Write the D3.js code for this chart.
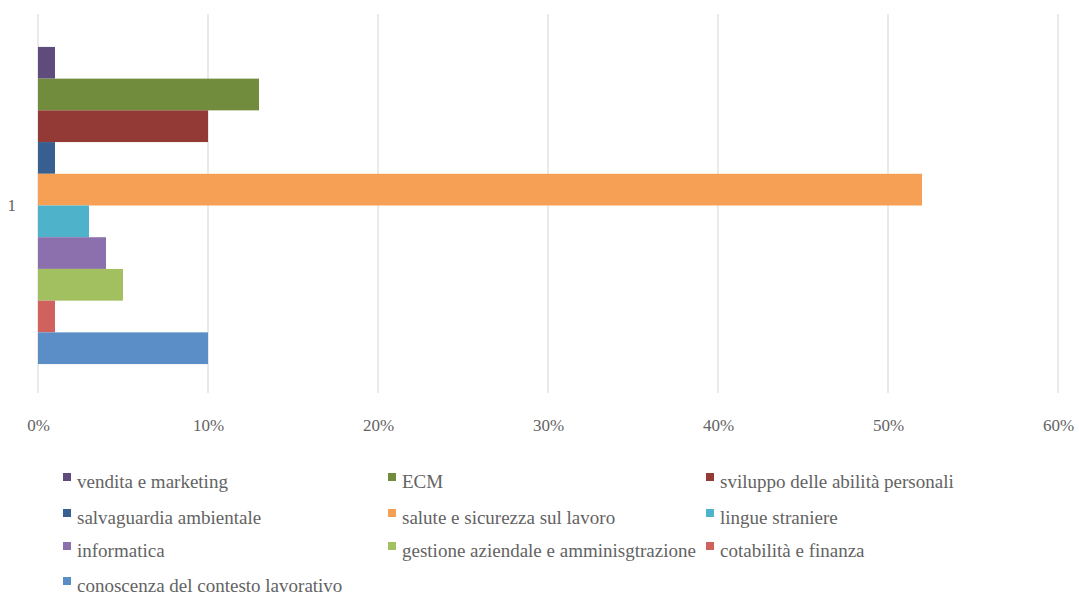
<!DOCTYPE html>
<html>
<head>
<meta charset="utf-8">
<script src="https://cdn.jsdelivr.net/npm/d3@7"></script>
<style>
  html, body { margin: 0; padding: 0; background: #fff; }
  svg { display: block; }
</style>
</head>
<body>
<svg id="chart" width="1079" height="595"></svg>
<script>
const categories = ["1"];
const seriesNames = [
  "vendita e marketing",
  "ECM",
  "sviluppo delle abilità personali",
  "salvaguardia ambientale",
  "salute e sicurezza sul lavoro",
  "lingue straniere",
  "informatica",
  "gestione aziendale e amminisgtrazione",
  "cotabilità e finanza",
  "conoscenza del contesto lavorativo"
];
const seriesValues = [0.01, 0.13, 0.10, 0.01, 0.52, 0.03, 0.04, 0.05, 0.01, 0.10];
const seriesColors = ["#5f4b7c", "#718c3c", "#933a37", "#375f8f", "#f6a055", "#4fb2cb", "#8b70ad", "#a2c05f", "#d0615d", "#5b8dc7"];
const xTicks = [0, 0.1, 0.2, 0.3, 0.4, 0.5, 0.6];

const svg = d3.select("#chart");
const plot = { left: 38, right: 1058, top: 14, bottom: 393 };
const FONT = '"Liberation Serif", "Times New Roman", serif';

const x = d3.scaleLinear().domain([0, 0.6]).range([plot.left, plot.right]);
const y0 = d3.scaleBand().domain(categories).range([plot.top + 2, plot.bottom + 2]).paddingInner(0).paddingOuter(0.0975);
const y1 = d3.scaleBand().domain(seriesNames).range([0, y0.bandwidth()]).padding(0);

svg.append("g")
  .selectAll("line")
  .data(xTicks)
  .join("line")
  .attr("x1", d => x(d)).attr("x2", d => x(d))
  .attr("y1", plot.top).attr("y2", plot.bottom)
  .attr("stroke", "#e3e3e3").attr("stroke-width", 1.5);

const groups = svg.append("g")
  .selectAll("g")
  .data(categories)
  .join("g")
  .attr("transform", d => `translate(0,${y0(d)})`);

groups.selectAll("rect")
  .data(() => seriesNames.map((n, i) => ({ name: n, value: seriesValues[i], color: seriesColors[i] })))
  .join("rect")
  .attr("x", x(0))
  .attr("y", d => y1(d.name))
  .attr("width", d => x(d.value) - x(0))
  .attr("height", y1.bandwidth())
  .attr("fill", d => d.color);

const xAxis = d3.axisBottom(x).tickValues(xTicks).tickFormat(d3.format(".0%")).tickSize(0).tickPadding(0);
const gx = svg.append("g").attr("transform", `translate(0,419)`).call(xAxis);
gx.select(".domain").remove();
gx.selectAll("text").attr("fill", "#636363").style("font-family", FONT).style("font-size", "17px");

const yAxis = d3.axisLeft(y0).tickSize(0).tickPadding(0);
const gy = svg.append("g").attr("transform", `translate(16,0)`).call(yAxis);
gy.select(".domain").remove();
gy.selectAll("text").attr("fill", "#636363").style("font-family", FONT).style("font-size", "17px");

const colX = [63, 388, 706];
const rowY = [481, 517, 550, 585];
const legend = svg.append("g");
seriesNames.forEach((n, i) => {
  const c = i % 3, r = Math.floor(i / 3);
  const g = legend.append("g").attr("transform", `translate(${colX[c]},${rowY[r]})`);
  g.append("rect").attr("x", 0).attr("y", -8).attr("width", 8).attr("height", 8).attr("fill", seriesColors[i]);
  g.append("text").attr("x", 14).attr("y", 0).attr("dy", "0.35em")
    .attr("fill", "#636363").style("font-family", FONT).style("font-size", "19px").text(n);
});
</script>
</body>
</html>
